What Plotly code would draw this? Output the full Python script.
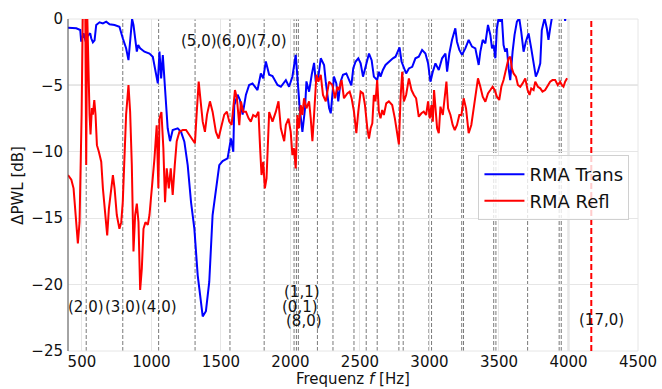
import plotly.graph_objects as go

# ---- data ----
trans_f = [400,460,488,495,512,527,543,560,567,579,591,603,627,651,675,699,735,770,794,818,835,847,861,871,885,895,905,919,950,986,1010,1029,1046,1058,1070,1082,1091,1101,1117,1134,1153,1189,1213,1237,1261,1285,1309,1333,1345,1369,1392,1416,1440,1464,1488,1512,1548,1572,1589,1596,1620,1637,1656,1680,1703,1727,1763,1787,1804,1823,1847,1871,1907,1931,1967,1990,2014,2038,2050,2067,2086,2105,2115,2134,2153,2170,2182,2201,2218,2242,2254,2278,2290,2300,2313,2330,2344,2361,2378,2402,2421,2438,2452,2469,2488,2505,2522,2541,2565,2584,2600,2624,2636,2648,2665,2684,2708,2737,2756,2785,2799,2816,2832,2852,2876,2899,2923,2947,2971,2990,3007,3024,3043,3067,3091,3115,3127,3143,3162,3186,3198,3215,3234,3258,3282,3306,3330,3354,3366,3383,3402,3421,3438,3450,3462,3474,3485,3497,3509,3521,3533,3545,3557,3569,3581,3598,3612,3629,3646,3660,3677,3693,3713,3732,3749,3765,3780,3797,3808,3828,3844,3856,3868,3880,3900,3940,3970,3976,3982,3995]
trans_db = [-0.65,-0.7,-0.83,-1.7,-1.08,-1.7,-1.25,-1.08,-1.45,-1.76,-1.6,-0.45,-0.25,-0.33,-0.2,-0.4,-0.45,-0.58,-1.45,-2.2,-3.1,-1.45,0.0,-0.45,-1.7,-2.46,-1.96,-2.2,-2.46,-2.6,-2.84,-4.09,-4.85,-2.46,-4.47,-2.71,-4.1,-6.2,-8.23,-9.2,-8.36,-8.23,-8.5,-9.24,-11.0,-13.8,-15.8,-19.3,-20.5,-22.4,-22.0,-19.8,-14.76,-12.75,-11.0,-10.7,-10.5,-9.0,-10.0,-6.5,-5.7,-6.1,-7.2,-5.7,-4.97,-4.85,-5.35,-4.1,-4.47,-3.2,-4.2,-4.3,-4.97,-5.1,-4.6,-5.1,-4.35,-2.7,-4.47,-6.73,-8.5,-6.73,-4.7,-5.47,-4.2,-3.3,-4.72,-4.35,-2.96,-3.47,-4.72,-6.7,-7.1,-5.7,-4.34,-4.85,-6.2,-4.72,-4.2,-4.1,-4.6,-5.0,-3.7,-3.2,-2.96,-3.34,-4.34,-3.6,-2.6,-3.1,-4.34,-4.6,-3.97,-4.34,-3.84,-3.46,-3.2,-2.96,-2.84,-2.13,-3.2,-3.6,-4.1,-3.72,-3.6,-2.96,-2.84,-2.33,-2.6,-3.34,-4.72,-3.97,-3.34,-3.84,-2.96,-2.6,-3.97,-2.6,-1.58,-0.7,-1.71,-2.33,-2.7,-2.21,-1.58,-2.08,-2.21,-3.46,-2.46,-1.58,-1.83,-0.45,-1.2,-2.21,-1.96,-2.96,-0.7,0.05,-0.2,0.05,-1.96,-2.46,-2.21,-3.7,-4.6,-2.46,-1.2,-0.2,0.05,-0.95,-2.46,-1.71,-1.08,-2.21,-3.46,-4.34,-3.97,-3.34,-0.83,0.05,-0.7,-1.58,-0.7,0.05,0.8,1.0,0.5,-0.15,0.6,1.0]

refl_f = [400,424,440,455,471,483,491,498,507,515,524,531,538,548,555,562,572,579,589,598,608,622,639,651,668,682,694,711,723,735,751,770,783,794,806,818,835,847,859,871,883,895,907,919,931,943,957,974,986,1005,1022,1038,1050,1058,1072,1086,1098,1110,1125,1139,1153,1168,1182,1201,1225,1249,1273,1297,1313,1325,1340,1352,1369,1385,1400,1421,1440,1464,1483,1500,1524,1543,1560,1577,1589,1601,1615,1632,1644,1660,1680,1699,1715,1732,1751,1770,1782,1792,1804,1816,1828,1847,1871,1895,1914,1931,1955,1967,1986,2002,2014,2026,2038,2050,2062,2074,2086,2098,2115,2134,2146,2158,2170,2187,2201,2218,2234,2254,2278,2301,2321,2337,2349,2368,2385,2409,2426,2440,2457,2474,2488,2505,2522,2536,2553,2565,2577,2589,2600,2612,2624,2636,2648,2660,2672,2689,2708,2732,2751,2768,2780,2792,2804,2816,2832,2852,2871,2888,2904,2923,2942,2959,2976,2990,3002,3014,3024,3033,3043,3055,3067,3079,3096,3110,3122,3134,3151,3167,3182,3198,3215,3230,3246,3263,3282,3301,3318,3335,3349,3366,3383,3402,3421,3438,3454,3469,3485,3502,3517,3533,3550,3569,3581,3593,3605,3622,3636,3653,3670,3689,3706,3720,3732,3749,3761,3780,3797,3813,3832,3851,3868,3885,3904,3923,3940,3952,3964,3976,3990]
refl_db = [-11.75,-12.1,-12.75,-14.76,-16.9,-15.3,-11.75,-7.2,1.0,1.5,1.0,-11.0,0.5,-6.0,-7.2,-8.7,-6.7,-7.2,-6.1,-7.2,-9.5,-10.0,-10.75,-12.75,-14.5,-16.3,-14.3,-12.5,-11.75,-12.75,-14.76,-15.8,-15.3,-13.76,-10.75,-7.2,-4.97,-7.0,-11.0,-17.5,-14.76,-13.9,-15.3,-20.4,-18.8,-15.8,-15.3,-15.5,-14.76,-12.75,-10.5,-8.0,-12.75,-7.5,-7.0,-9.74,-13.8,-11.25,-12.75,-11.25,-13.25,-11.0,-9.2,-8.5,-8.36,-8.36,-8.74,-9.1,-9.36,-7.2,-4.72,-5.97,-7.73,-8.5,-7.2,-6.2,-6.98,-8.5,-9.0,-8.23,-7.2,-6.98,-7.73,-7.98,-6.73,-5.35,-5.97,-8.0,-6.2,-6.98,-6.98,-7.48,-7.73,-7.23,-7.36,-6.98,-9.74,-11.75,-10.75,-12.75,-12.0,-7.0,-7.73,-6.98,-6.2,-8.23,-9.2,-7.98,-7.5,-8.5,-10.25,-9.74,-11.25,-7.23,-8.23,-6.48,-7.23,-5.97,-6.73,-6.2,-7.48,-9.2,-7.23,-4.2,-4.72,-4.2,-5.72,-6.2,-4.72,-4.97,-5.97,-5.1,-5.35,-4.6,-5.97,-5.6,-5.47,-5.97,-6.98,-8.6,-6.98,-5.47,-5.6,-6.48,-8.23,-9.0,-8.23,-7.86,-5.72,-6.2,-4.6,-6.98,-7.48,-6.85,-7.23,-6.35,-6.2,-6.48,-7.48,-8.74,-9.44,-5.97,-3.97,-6.2,-5.72,-4.47,-5.35,-5.72,-5.97,-7.36,-7.1,-6.98,-7.23,-6.2,-7.48,-6.48,-7.73,-5.35,-6.98,-8.23,-8.6,-6.6,-7.23,-5.97,-4.72,-6.73,-7.23,-7.98,-8.36,-7.98,-7.23,-7.23,-5.97,-6.73,-8.6,-7.98,-6.73,-5.47,-4.47,-5.1,-5.85,-6.23,-5.6,-5.35,-5.1,-5.35,-5.85,-6.1,-5.1,-4.6,-3.72,-2.96,-2.84,-3.72,-4.1,-4.34,-4.97,-5.1,-4.85,-4.47,-5.35,-5.72,-5.22,-5.35,-4.72,-5.1,-5.22,-5.47,-5.35,-4.97,-4.72,-4.6,-4.6,-4.97,-4.72,-4.97,-5.1,-4.72,-4.47]

mode_freqs = [531,794,1052,1314,1565,1811,2026,2043,2057,2194,2306,2457,2545,2624,2780,2811,2996,3015,3232,3245,3462,3478,3706,3933,3948]
cutoff_freq = [4164]

label_text = ["(2,0)","(3,0)","(4,0)","(5,0)","(6,0)","(7,0)","(1,1)","(0,1)","(8,0)","(17,0)"]
label_f    = [531, 794, 1052, 1340, 1596, 1847, 2086, 2069, 2096, 4239]
label_db   = [-21.7,-21.7,-21.7,-1.63,-1.63,-1.63,-20.55,-21.65,-22.75,-22.67]

x_title = "Frequenz <i>f</i> [Hz]"
y_title = "ΔPWL [dB]"

FONT = "DejaVu Sans"

fig = go.Figure()
fig.add_trace(go.Scatter(x=trans_f, y=trans_db, mode="lines", name="RMA Trans",
                         line=dict(color="#0000ff", width=2)))
fig.add_trace(go.Scatter(x=refl_f, y=refl_db, mode="lines", name="RMA Refl",
                         line=dict(color="#ff0000", width=2)))

shapes = []
shapes.append(dict(type="line", xref="paper", yref="y", x0=0, x1=1, y0=-5, y1=-5,
                   line=dict(color="#a8a8a8", width=1.2), layer="between"))
shapes.append(dict(type="line", xref="x", yref="paper", x0=4000, x1=4000, y0=0, y1=1,
                   line=dict(color="#cfcfcf", width=1.8), layer="between"))
for f in mode_freqs:
    shapes.append(dict(type="line", xref="x", yref="paper", x0=f, x1=f, y0=0, y1=1,
                       line=dict(color="#7a7a7a", width=1, dash="4px,2px"), layer="between"))
for f in cutoff_freq:
    shapes.append(dict(type="line", xref="x", yref="paper", x0=f, x1=f, y0=0, y1=1,
                       line=dict(color="#ff0000", width=2, dash="6px,3px"), layer="above"))
shapes.append(dict(type="rect", xref="paper", yref="paper", x0=0, x1=1, y0=0, y1=1,
                   line=dict(color="#e6e6e6", width=1), layer="below"))
shapes.append(dict(type="line", xref="paper", yref="paper", x0=0, x1=0, y0=0, y1=1,
                   line=dict(color="#555555", width=1), layer="above"))

annotations = []
for t, f, d in zip(label_text, label_f, label_db):
    annotations.append(dict(x=f, y=d, xref="x", yref="y", text=t, showarrow=False,
                            font=dict(family=FONT, size=15, color="#111111"),
                            xanchor="center", yanchor="middle"))
annotations.append(dict(x=0.5, y=-0.083, xref="paper", yref="paper", text=x_title,
                        showarrow=False, xanchor="center", yanchor="middle",
                        font=dict(family=FONT, size=15, color="#111111")))
annotations.append(dict(x=-0.088, y=0.5, xref="paper", yref="paper", text=y_title,
                        showarrow=False, xanchor="center", yanchor="middle", textangle=-90,
                        font=dict(family=FONT, size=15, color="#111111")))

fig.update_layout(
    width=662, height=389,
    margin=dict(l=68, r=24, t=19, b=38),
    paper_bgcolor="white", plot_bgcolor="white",
    font=dict(family=FONT, size=15, color="#111111"),
    shapes=shapes, annotations=annotations,
    legend=dict(x=0.985, y=0.59, xanchor="right", yanchor="top",
                bgcolor="rgba(255,255,255,0.8)", bordercolor="#d0d0d0", borderwidth=1,
                font=dict(family=FONT, size=18, color="#111111"),
                tracegroupgap=0, itemwidth=40),
    xaxis=dict(range=[400, 4500], tickvals=[500,1000,1500,2000,2500,3000,3500,4000,4500],
               showgrid=True, gridcolor="#e6e6e6", gridwidth=1, zeroline=False,
               automargin=False,
               ticks="", ticklen=0, tickfont=dict(family=FONT, size=15)),
    yaxis=dict(range=[-25, 0], tickvals=[0,-5,-10,-15,-20,-25],
               showgrid=True, gridcolor="#e6e6e6", gridwidth=1, zeroline=False,
               automargin=False,
               ticks="", ticklen=0, ticklabelstandoff=4, tickfont=dict(family=FONT, size=15)),
    showlegend=True,
)

fig.write_html("out.html")
